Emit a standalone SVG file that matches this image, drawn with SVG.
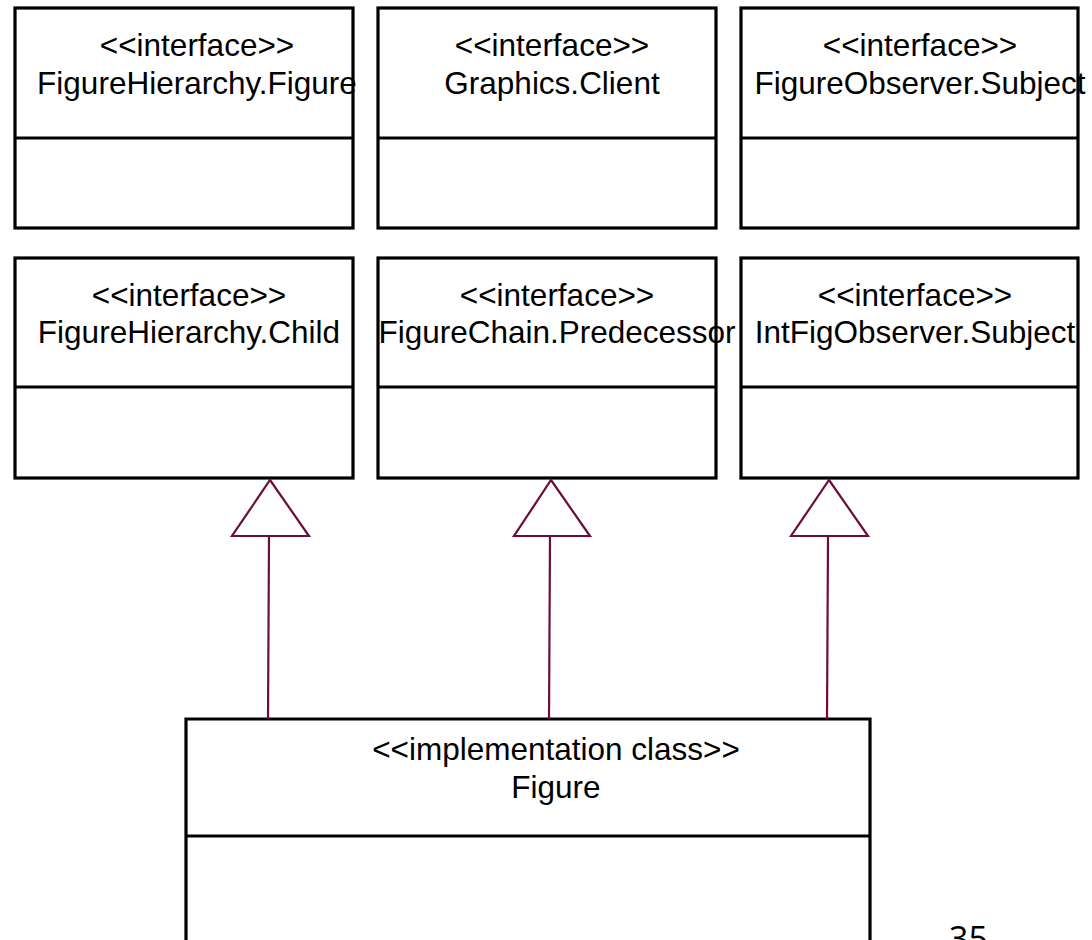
<svg xmlns="http://www.w3.org/2000/svg" width="1092" height="940" viewBox="0 0 1092 940">
  <style>
    .box { fill: #ffffff; stroke: #000000; stroke-width: 3.2; }
    .div { stroke: #000000; stroke-width: 3.2; }
    .lbl { font-family: "Liberation Sans", Arial, sans-serif; font-size: 31.5px; fill: #000000; text-anchor: middle; }
    .gen { fill: #ffffff; stroke: #6b0e3c; stroke-width: 2.2; stroke-linejoin: miter; }
    .line { stroke: #6b0e3c; stroke-width: 2.2; fill: none; }
    .page { font-family: "Open Sans", "Noto Sans", sans-serif; font-size: 34px; fill: #000000; }
  </style>
  <rect width="1092" height="940" fill="#ffffff"/>

  <g id="figurehierarchy-figure">
    <rect class="box" x="15" y="8" width="338" height="220"/>
    <line class="div" x1="15" y1="138" x2="353" y2="138"/>
    <text class="lbl" x="197" y="56">&lt;&lt;interface&gt;&gt;</text>
    <text class="lbl" x="197" y="94">FigureHierarchy.Figure</text>
  </g>

  <g id="graphics-client">
    <rect class="box" x="378" y="8" width="338" height="220"/>
    <line class="div" x1="378" y1="138" x2="716" y2="138"/>
    <text class="lbl" x="552" y="56">&lt;&lt;interface&gt;&gt;</text>
    <text class="lbl" x="552" y="94">Graphics.Client</text>
  </g>

  <g id="figureobserver-subject">
    <rect class="box" x="741" y="8" width="337" height="220"/>
    <line class="div" x1="741" y1="138" x2="1078" y2="138"/>
    <text class="lbl" x="920" y="56">&lt;&lt;interface&gt;&gt;</text>
    <text class="lbl" x="920" y="94">FigureObserver.Subject</text>
  </g>

  <g id="figurehierarchy-child">
    <rect class="box" x="15" y="258" width="338" height="220"/>
    <line class="div" x1="15" y1="387" x2="353" y2="387"/>
    <text class="lbl" x="189" y="306">&lt;&lt;interface&gt;&gt;</text>
    <text class="lbl" x="189" y="343">FigureHierarchy.Child</text>
  </g>

  <g id="figurechain-predecessor">
    <rect class="box" x="378" y="258" width="338" height="220"/>
    <line class="div" x1="378" y1="387" x2="716" y2="387"/>
    <text class="lbl" x="557" y="306">&lt;&lt;interface&gt;&gt;</text>
    <text class="lbl" x="557" y="343">FigureChain.Predecessor</text>
  </g>

  <g id="intfigobserver-subject">
    <rect class="box" x="741" y="258" width="337" height="220"/>
    <line class="div" x1="741" y1="387" x2="1078" y2="387"/>
    <text class="lbl" x="915" y="306">&lt;&lt;interface&gt;&gt;</text>
    <text class="lbl" x="915" y="343">IntFigObserver.Subject</text>
  </g>

  <g id="figure-impl">
    <path class="box" d="M186,942 L186,719 L870,719 L870,942"/>
    <line class="div" x1="186" y1="836" x2="870" y2="836"/>
    <text class="lbl" x="556" y="760">&lt;&lt;implementation class&gt;&gt;</text>
    <text class="lbl" x="556" y="798">Figure</text>
  </g>

  <g id="connectors">
    <line class="line" x1="268" y1="719" x2="269" y2="537"/>
    <polygon class="gen" points="270,480 309,536 232,536"/>
    <line class="line" x1="549" y1="719" x2="550" y2="537"/>
    <polygon class="gen" points="551,480 590,536 514,536"/>
    <line class="line" x1="827" y1="719" x2="828" y2="537"/>
    <polygon class="gen" points="829,480 868,536 791,536"/>
  </g>

  <text class="page" x="949" y="951">35</text>
</svg>
